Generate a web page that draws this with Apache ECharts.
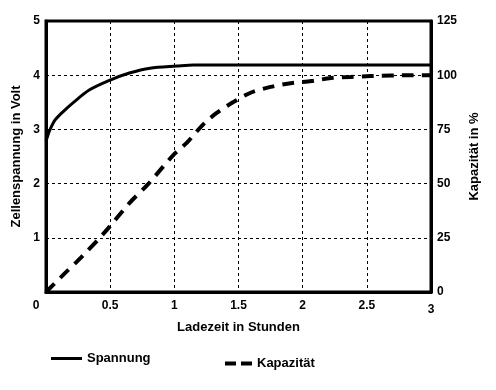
<!DOCTYPE html>
<html><head><meta charset="utf-8">
<script src="https://cdn.jsdelivr.net/npm/echarts@6/dist/echarts.min.js"></script>
<style>html,body{margin:0;padding:0;background:#fff}#c{width:496px;height:390px}</style>
</head><body><div id="c"></div>
<script>
const xTicks = [0, 0.5, 1, 1.5, 2, 2.5, 3];
const leftTicks = [0, 1, 2, 3, 4, 5];
const rightTicks = [0, 25, 50, 75, 100, 125];
const spannungH = [0, 0.01, 0.03, 0.07, 0.13, 0.21, 0.34, 0.5, 0.65, 0.81, 1.02, 1.15, 1.5, 2, 2.5, 3];
const spannungV = [2.78, 2.86, 2.99, 3.17, 3.32, 3.49, 3.73, 3.91, 4.04, 4.13, 4.17, 4.19, 4.19, 4.19, 4.19, 4.19];
const kapH = [0, 0.15, 0.27, 0.46, 0.65, 0.79, 0.99, 1.10, 1.22, 1.33, 1.46, 1.59, 1.75, 1.92, 2.07, 2.22, 2.37, 2.53, 2.84, 3.0];
const kapP = [0, 8.8, 15.7, 27.7, 41, 49.4, 63, 69, 77, 82.6, 87.6, 91.8, 94.6, 96.4, 97.3, 98.7, 99.2, 99.6, 100, 100];
const names = {x: 'Ladezeit in Stunden', left: 'Zellenspannung in Volt', right: 'Kapazität in %', s1: 'Spannung', s2: 'Kapazität'};

const font = {fontFamily: 'Liberation Sans, Arial, sans-serif', fontWeight: 'bold', fontSize: 12, color: '#000'};
const font13 = Object.assign({}, font, {fontSize: 13});
const split = {show: true, lineStyle: {color: '#000', width: 1, type: [3, 3]}};
const chart = echarts.init(document.getElementById('c'), null, {renderer: 'canvas'});
chart.setOption({
  animation: false,
  backgroundColor: '#fff',
  grid: {left: 46, right: 65, top: 21, bottom: 98, show: true, borderColor: '#000', borderWidth: 3},
  legend: [
    {data: [{name: names.s1, icon: 'rect'}], left: 46, top: 347, itemWidth: 31, itemHeight: 3, itemGap: 0,
     textStyle: font13},
    {data: [{name: names.s2, icon: 'path://M0,0H11V4H0Z M16,0H27V4H16Z'}], left: 220, top: 352, itemWidth: 27, itemHeight: 4,
     textStyle: font13}
  ],
  xAxis: {
    type: 'value', min: xTicks[0], max: xTicks[xTicks.length - 1], interval: 0.5,
    name: names.x, nameLocation: 'middle', nameGap: 28, nameTextStyle: font13,
    axisLine: {lineStyle: {color: '#000', width: 3}}, axisTick: {show: false},
    splitLine: split,
    axisLabel: Object.assign({}, font, {margin: 8,
      formatter: v => v === 0 ? '{z|0}' : v === 3 ? '{t|3}' : String(v),
      rich: {z: Object.assign({}, font, {padding: [0, 20, 0, 0]}), t: Object.assign({}, font, {padding: [4, 0, 0, 0]})}})
  },
  yAxis: [{
    type: 'value', min: leftTicks[0], max: leftTicks[leftTicks.length - 1], interval: 1,
    name: names.left, nameLocation: 'middle', nameGap: 21, nameRotate: 90, nameTextStyle: font13,
    axisLine: {show: true, lineStyle: {color: '#000', width: 3}}, axisTick: {show: false},
    splitLine: split,
    axisLabel: Object.assign({}, font, {margin: 6, formatter: v => v === 0 ? '' : String(v)})
  }, {
    type: 'value', min: rightTicks[0], max: rightTicks[rightTicks.length - 1], interval: 25,
    name: names.right, nameLocation: 'middle', nameGap: 35, nameRotate: 90, nameTextStyle: font13,
    position: 'right',
    axisLine: {show: true, lineStyle: {color: '#000', width: 3}}, axisTick: {show: false},
    splitLine: {show: false},
    axisLabel: Object.assign({}, font, {margin: 6})
  }],
  series: [{
    name: names.s1, type: 'line', yAxisIndex: 0, symbol: 'none', smooth: 0.3,
    data: spannungH.map((h, i) => [h, spannungV[i]]),
    lineStyle: {color: '#000', width: 3}, itemStyle: {color: '#000'}
  }, {
    name: names.s2, type: 'line', yAxisIndex: 1, symbol: 'none', smooth: 0.3,
    data: kapH.map((h, i) => [h, kapP[i]]),
    lineStyle: {color: '#000', width: 4, type: [12, 8]}, itemStyle: {color: '#000'}
  }]
});
</script></body></html>
